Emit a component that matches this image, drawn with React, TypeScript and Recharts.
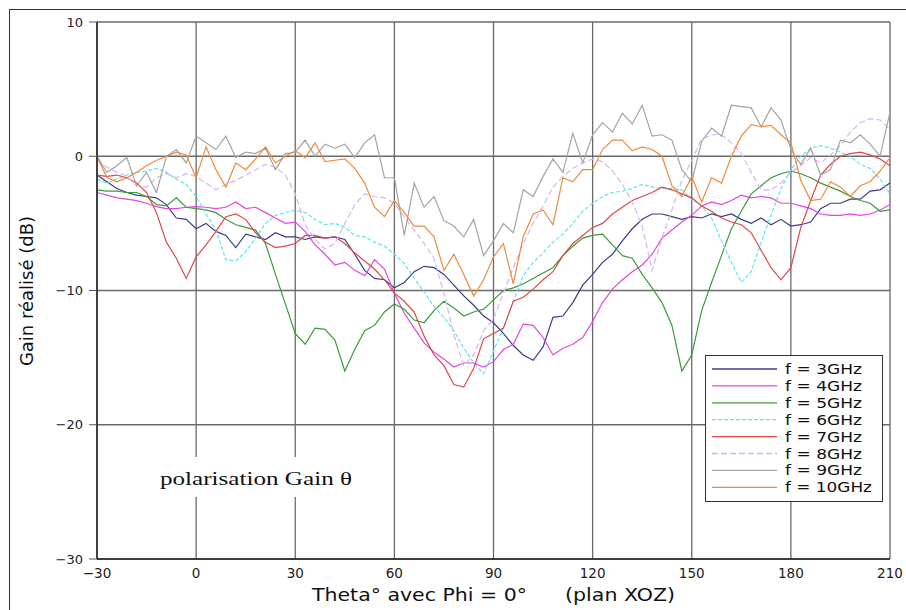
import React from 'react';
import { LineChart, Line, XAxis, YAxis, CartesianGrid, Legend, Label } from 'recharts';

// angle theta (deg), one sample every 3 deg
const theta = [
  -30, -27, -24, -21, -18, -15, -12, -9, -6, -3,
  0, 3, 6, 9, 12, 15, 18, 21, 24, 27,
  30, 33, 36, 39, 42, 45, 48, 51, 54, 57,
  60, 63, 66, 69, 72, 75, 78, 81, 84, 87,
  90, 93, 96, 99, 102, 105, 108, 111, 114, 117,
  120, 123, 126, 129, 132, 135, 138, 141, 144, 147,
  150, 153, 156, 159, 162, 165, 168, 171, 174, 177,
  180, 183, 186, 189, 192, 195, 198, 201, 204, 207,
  210,
];

// gain (dB)
const gain3GHz = [
  -1.4, -1.9, -2.4, -2.7, -2.9, -3.0, -3.1, -3.6, -4.6, -4.7,
  -5.4, -5.0, -5.6, -5.9, -6.8, -5.8, -6.0, -6.2, -5.7, -6.0,
  -6.0, -6.2, -6.0, -6.1, -6.0, -6.2, -7.3, -8.5, -9.1, -9.2,
  -9.8, -9.4, -8.6, -8.2, -8.3, -8.8, -9.6, -10.4, -11.1, -11.9,
  -12.4, -13.2, -14.1, -14.8, -15.2, -14.2, -12.0, -11.9, -10.9, -9.6,
  -8.8, -7.9, -7.3, -6.3, -5.4, -4.7, -4.3, -4.3, -4.5, -4.7,
  -4.5, -4.6, -4.3, -4.5, -4.3, -4.7, -5.0, -4.6, -5.1, -4.7,
  -5.2, -5.1, -4.9, -3.9, -3.5, -3.5, -3.2, -3.2, -2.6, -2.5,
  -2.0,
];

const gain4GHz = [
  -2.7, -2.9, -3.1, -3.2, -3.3, -3.5, -3.75, -3.9, -3.9, -3.8,
  -3.75, -3.8, -3.9, -3.8, -3.4, -3.9, -3.8, -4.2, -4.6, -5.0,
  -4.9, -5.6, -6.6, -7.3, -8.1, -7.9, -8.5, -8.9, -7.7, -8.4,
  -10.2, -11.7, -12.8, -13.9, -14.6, -15.1, -15.7, -15.4, -15.4, -15.7,
  -15.3, -14.4, -14.0, -12.5, -12.6, -13.5, -14.8, -14.3, -14.0, -13.5,
  -12.3, -10.9, -9.9, -9.2, -8.6, -8.1, -7.3, -6.1, -5.5, -4.9,
  -4.4, -3.7, -3.4, -3.6, -3.3, -2.9, -3.1, -3.0, -3.1, -3.5,
  -3.5, -3.7, -3.9, -4.3, -4.4, -4.4, -4.3, -4.4, -4.3, -4.0,
  -3.6,
];

const gain5GHz = [
  -2.5, -2.6, -2.6, -2.7, -2.7, -3.0, -3.6, -3.7, -3.1, -3.8,
  -3.9, -4.0, -4.2, -4.7, -5.1, -5.3, -5.5, -6.5, -8.8, -11.0,
  -13.2, -14.0, -12.8, -12.9, -13.7, -16.0, -14.4, -13.0, -12.6, -11.6,
  -11.0, -11.4, -12.2, -12.4, -11.5, -10.8, -11.3, -11.9, -11.6, -11.4,
  -10.7, -10.0, -9.8, -9.5, -9.1, -8.7, -8.3, -7.4, -6.7, -6.1,
  -5.9, -5.8, -6.6, -7.4, -7.6, -8.8, -9.8, -10.9, -12.6, -16.0,
  -14.8, -11.5, -9.4, -7.4, -5.4, -4.1, -2.8, -2.2, -1.6, -1.3,
  -1.1, -1.3, -1.6, -2.0, -2.3, -2.6, -3.0, -3.3, -3.5, -4.1,
  -4.0,
];

const gain6GHz = [
  -1.7, -2.0, -1.7, -1.4, -1.2, -1.1, -0.9, -1.2, -1.7, -2.1,
  -3.0, -4.3, -5.5, -7.7, -7.8, -7.1, -6.1, -5.0, -4.4, -4.2,
  -4.0, -4.2, -4.7, -5.1, -5.0, -5.3, -5.9, -6.0, -6.4, -6.7,
  -7.3, -8.0, -9.1, -10.1, -11.2, -12.0, -13.0, -14.3, -15.4, -16.2,
  -14.5, -12.8, -10.8, -8.9, -7.9, -7.2, -6.4, -5.8, -5.0, -4.1,
  -3.5, -3.0, -2.7, -2.6, -2.4, -2.1, -2.3, -2.4, -2.4, -2.5,
  -3.2, -3.7, -4.6, -6.3, -7.9, -9.4, -8.6, -6.4, -4.4, -2.4,
  -1.0, 0.0, 0.6, 0.8, 0.6, 0.3, 0.0, -0.6, -0.9, -1.7,
  -2.8,
];

const gain7GHz = [
  -1.4, -1.5, -1.4, -1.6, -2.0, -2.7, -4.2, -6.4, -7.6, -9.1,
  -7.5, -6.6, -5.6, -4.5, -4.3, -4.7, -5.7, -6.4, -6.8, -6.7,
  -6.5, -5.9, -5.9, -6.1, -6.0, -6.5, -7.2, -7.8, -8.4, -9.2,
  -10.2, -10.8, -11.6, -13.4, -14.8, -15.6, -17.0, -17.2, -15.8, -13.6,
  -13.2, -12.8, -10.8, -10.5, -9.9, -9.2, -8.6, -7.4, -6.5, -5.9,
  -5.3, -5.0, -4.3, -3.8, -3.3, -3.0, -2.7, -2.3, -2.5, -2.8,
  -3.1, -3.7, -4.1, -4.6, -4.9, -5.1, -5.7, -7.0, -8.3, -9.2,
  -8.3, -5.3, -3.3, -1.4, -0.6, 0.0, 0.2, 0.3, 0.1, -0.2,
  -0.7,
];

const gain8GHz = [
  -0.3, -0.8, -1.2, -1.5, -2.2, -2.3, -1.6, -1.3, -1.6, -1.3,
  -1.5, -2.0, -2.5, -2.1, -1.8, -1.4, -1.0, -0.6, -0.8, -1.4,
  -2.8, -5.1, -6.2, -6.9, -6.5, -5.0, -3.6, -2.8, -3.0, -3.1,
  -3.5, -4.5, -5.5, -6.5, -7.6, -10.2, -13.3, -15.6, -14.8, -13.0,
  -12.1, -10.2, -8.3, -6.5, -5.0, -3.7, -2.3, -1.5, -0.9, -0.5,
  -0.2, -0.4, -1.1, -2.1, -3.4, -5.2, -8.5, -6.1, -4.0, -1.8,
  -0.3, 1.3, 1.6, 1.6, 1.0, 0.2, -1.2, -2.5, -2.5, -2.0,
  -1.2, -0.7, -0.1, -0.5, 0.1, 0.8, 1.8, 2.5, 2.8, 2.7,
  2.0,
];

const gain9GHz = [
  0.0, -1.2, -0.7, -0.1, -2.2, -1.2, -2.7, 0.0, 0.5, -0.5,
  1.5, 1.0, 0.5, 1.5, -0.1, 0.3, 0.2, 0.6, -1.0, 0.2,
  0.3, 1.2, 0.0, 0.9, 0.6, 0.9, -0.1, 1.0, 1.6, -1.6,
  -1.6, -5.9, -2.0, -3.8, -3.0, -4.8, -5.2, -6.0, -4.7, -7.4,
  -6.3, -5.0, -5.7, -2.5, -3.0, -1.5, -0.2, -1.2, 1.7, -0.5,
  1.6, 2.5, 1.8, 3.2, 2.4, 3.8, 1.5, 1.6, 1.2, -1.0,
  -1.9, 1.1, 2.1, 1.5, 3.8, 3.7, 3.6, 2.2, 3.6, 2.7,
  0.5, -0.6, 0.6, -1.4, -1.0, 1.2, 1.0, 1.6, 0.9, 0.0,
  3.3,
];

const gain10GHz = [
  0.0, -1.6, -1.9, -1.6, -1.2, -0.7, -0.3, 0.0, 0.3, 0.1,
  -1.6, 0.7, -1.0, -2.3, -0.5, -1.0, -0.2, 0.7, -0.5, 0.0,
  0.4, -0.1, 1.0, -0.4, -0.3, -0.2, -0.9, -2.0, -3.8, -4.5,
  -3.3, -4.2, -5.2, -5.2, -6.0, -8.5, -7.3, -8.8, -10.4, -9.2,
  -7.5, -6.5, -9.5, -6.0, -4.3, -4.0, -5.1, -1.6, -1.9, -1.0,
  -1.0, 0.5, 1.2, 1.2, 0.4, 0.7, 0.5, 0.0, -2.2, -3.0,
  -1.5, -3.4, -1.6, -2.0, 0.0, 1.5, 2.35, 2.2, 2.3, 1.6,
  1.0, -1.8, -3.3, -3.2, -1.9, -2.3, -3.0, -2.2, -1.9, -1.1,
  -0.1,
];

const xTicks = [-30, 0, 30, 60, 90, 120, 150, 180, 210];
const yTicks = [-30, -20, -10, 0, 10];

const series = [
  { key: 'f3', name: 'f = 3GHz', values: gain3GHz, color: '#3c3c8c', dash: undefined },
  { key: 'f4', name: 'f = 4GHz', values: gain4GHz, color: '#e446e0', dash: undefined },
  { key: 'f5', name: 'f = 5GHz', values: gain5GHz, color: '#3d9a3d', dash: undefined },
  { key: 'f6', name: 'f = 6GHz', values: gain6GHz, color: '#5ee4ec', dash: '4 2' },
  { key: 'f7', name: 'f = 7GHz', values: gain7GHz, color: '#e04848', dash: undefined },
  { key: 'f8', name: 'f = 8GHz', values: gain8GHz, color: '#d4b4f4', dash: '6 3' },
  { key: 'f9', name: 'f = 9GHz', values: gain9GHz, color: '#a4a4a4', dash: undefined },
  { key: 'f10', name: 'f = 10GHz', values: gain10GHz, color: '#f08a3c', dash: undefined },
];

const data = theta.map((t, i) => {
  const row: Record<string, number> = { theta: t };
  series.forEach((s) => {
    row[s.key] = s.values[i];
  });
  return row;
});

const font = 'DejaVu Sans, sans-serif';
const fmt = (v: number) => (v < 0 ? '\u2212' + Math.abs(v) : String(v));

// boxed legend, lower right of the plot
const LegendBox = () => (
  <svg width={178} height={147} style={{ display: 'block' }}>
    <rect x={0.5} y={0.5} width={177} height={146} fill="#fff" stroke="#333" />
    {series.map((s, i) => {
      const cy = 14 + i * 16.9;
      return (
        <g key={s.key}>
          <line x1={7} x2={72} y1={cy} y2={cy} stroke={s.color} strokeWidth={1.3} strokeDasharray={s.dash} />
          <text
            x={80}
            y={cy + 5}
            fontSize={14.5}
            fontFamily={font}
            fill="#111"
            textLength={s.key === 'f10' ? 87 : 77}
            lengthAdjust="spacingAndGlyphs"
          >
            {s.name}
          </text>
        </g>
      );
    })}
  </svg>
);

export default function App() {
  return (
    <div
      style={{
        position: 'absolute',
        left: 9,
        top: 9,
        width: 896,
        height: 600,
        borderTop: '1px solid #333',
        borderLeft: '1px solid #333',
        background: '#fff',
      }}
    >
      <div style={{ position: 'relative', width: 896, height: 600 }}>
        <LineChart width={896} height={600} data={data} margin={{ top: 12, right: 16, left: 0, bottom: 0 }}>
          <CartesianGrid stroke="#6a6a6a" strokeWidth={1.3} />
          <XAxis
            dataKey="theta"
            type="number"
            domain={[-30, 210]}
            ticks={xTicks}
            interval={0}
            tickFormatter={fmt}
            height={51}
            tickSize={4}
            tickMargin={5}
            tickLine={false}
            axisLine={{ stroke: '#222', strokeWidth: 1.5 }}
            tick={{ fontSize: 13.5, fill: '#222', fontFamily: font }}
          >
            <Label
              content={() => (
                <g fontFamily={font} fill="#111" fontSize={17}>
                  <text x={302} y={591} textLength={215} lengthAdjust="spacingAndGlyphs">
                    Theta° avec Phi = 0°
                  </text>
                  <text x={555} y={591} textLength={110} lengthAdjust="spacingAndGlyphs">
                    (plan XOZ)
                  </text>
                </g>
              )}
            />
          </XAxis>
          <YAxis
            type="number"
            domain={[-30, 10]}
            ticks={yTicks}
            interval={0}
            tickFormatter={fmt}
            width={87}
            tickSize={8}
            tickMargin={6}
            tickLine={{ stroke: '#555' }}
            axisLine={{ stroke: '#222', strokeWidth: 1.5 }}
            tick={{ fontSize: 13, fill: '#222', fontFamily: font }}
          >
            <Label
              content={() => (
                <text
                  x={23}
                  y={281}
                  transform="rotate(-90 23 281)"
                  textAnchor="middle"
                  fontFamily={font}
                  fontSize={18}
                  fill="#111"
                >
                  Gain réalisé (dB)
                </text>
              )}
            />
          </YAxis>
          {series.map((s) => (
            <Line
              key={s.key}
              type="linear"
              dataKey={s.key}
              name={s.name}
              stroke={s.color}
              strokeWidth={1.2}
              strokeDasharray={s.dash}
              dot={false}
              activeDot={false}
              isAnimationActive={false}
            />
          ))}
          <Legend
            layout="vertical"
            align="center"
            verticalAlign="middle"
            content={<LegendBox />}
            wrapperStyle={{ left: 695, top: 345, width: 178, height: 147 }}
          />
        </LineChart>
        <svg
          width={896}
          height={600}
          style={{ position: 'absolute', left: 0, top: 0, pointerEvents: 'none' }}
        >
          <rect x={140} y={447} width={220} height={40} fill="#fff" />
          <text
            x={150}
            y={475}
            fontFamily="Liberation Serif, serif"
            fontSize={19.5}
            fill="#111"
            textLength={192}
            lengthAdjust="spacingAndGlyphs"
          >
            polarisation Gain θ
          </text>
        </svg>
      </div>
    </div>
  );
}
